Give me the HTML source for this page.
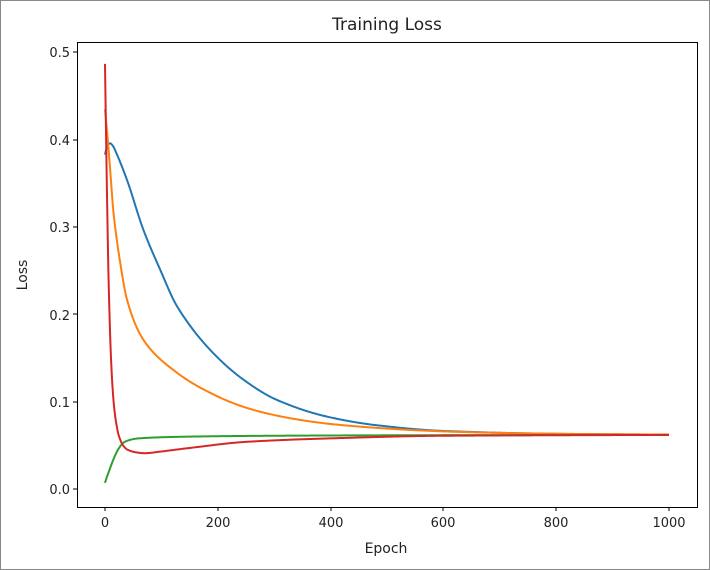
<!DOCTYPE html>
<html><head><meta charset="utf-8"><style>
html,body{margin:0;padding:0;background:#fff}
svg{display:block;font-family:"DejaVu Sans","Liberation Sans",sans-serif}
</style></head><body>
<svg id="s" width="710" height="570" viewBox="0 0 710 570">
<rect x="0.5" y="0.5" width="709" height="569" fill="#fff" stroke="#888"/>
<text x="387" y="30" font-size="17" text-anchor="middle" fill="#222">Training Loss</text>
<g id="plot"></g>
<rect x="77.5" y="42.5" width="620" height="465" fill="none" stroke="#000" stroke-width="1"/>
<g font-size="13" fill="#222">
<text x="105" y="527" text-anchor="middle">0</text>
<text x="218" y="527" text-anchor="middle">200</text>
<text x="331" y="527" text-anchor="middle">400</text>
<text x="443" y="527" text-anchor="middle">600</text>
<text x="556" y="527" text-anchor="middle">800</text>
<text x="669" y="527" text-anchor="middle">1000</text>
<text x="70" y="494" text-anchor="end">0.0</text>
<text x="70" y="407" text-anchor="end">0.1</text>
<text x="70" y="320" text-anchor="end">0.2</text>
<text x="70" y="232" text-anchor="end">0.3</text>
<text x="70" y="145" text-anchor="end">0.4</text>
<text x="70" y="57" text-anchor="end">0.5</text>
<text x="386" y="553" text-anchor="middle" font-size="14">Epoch</text>
<text transform="translate(27,275) rotate(-90)" text-anchor="middle" font-size="14">Loss</text>
</g>
<g stroke="#000" stroke-width="1">
<line x1="105" y1="507" x2="105" y2="511"/><line x1="218" y1="507" x2="218" y2="511"/>
<line x1="331" y1="507" x2="331" y2="511"/><line x1="443" y1="507" x2="443" y2="511"/>
<line x1="556" y1="507" x2="556" y2="511"/><line x1="669" y1="507" x2="669" y2="511"/>
<line x1="73" y1="489" x2="77" y2="489"/><line x1="73" y1="402" x2="77" y2="402"/>
<line x1="73" y1="314" x2="77" y2="314"/><line x1="73" y1="227" x2="77" y2="227"/>
<line x1="73" y1="140" x2="77" y2="140"/><line x1="73" y1="52" x2="77" y2="52"/>
</g>
</svg>
<script>
function X(t){return 105+t*0.564;}
function Y(v){return 489-v*873;}
function mono(pts){var n=pts.length,xs=pts.map(p=>p[0]),ys=pts.map(p=>p[1]),d=[],m=[];
for(var i=0;i<n-1;i++)d.push((ys[i+1]-ys[i])/(xs[i+1]-xs[i]));
m[0]=d[0];m[n-1]=d[n-2];for(i=1;i<n-1;i++){m[i]=(d[i-1]*d[i]<=0)?0:2/(1/d[i-1]+1/d[i]);}
return function(t){if(t<=xs[0])return ys[0];if(t>=xs[n-1])return ys[n-1];var k=0;while(t>xs[k+1])k++;
var h=xs[k+1]-xs[k],s=(t-xs[k])/h,s2=s*s,s3=s2*s;
return (2*s3-3*s2+1)*ys[k]+(s3-2*s2+s)*h*m[k]+(-2*s3+3*s2)*ys[k+1]+(s3-s2)*h*m[k+1];};}
function logCurve(pts,base){var f=mono(pts.map(p=>[p[0],Math.log(p[1])]));return t=>base+Math.exp(f(t));}
var F=0.062;
var blue=mono([[0,.383],[3,.391],[6,.395],[9,.396],[14,.393],[20,.385],[39,.354],[68,.297],[98,.251],[128,.209],[187,.159],[246,.125],[305,.102],[393,.083],[482,.073],[600,.0665],[800,.0632],[1000,.0623]]);
var orange=logCurve([[0,.373],[4,.345],[9,.305],[15,.255],[20,.228],[27,.197],[39,.155],[68,.109],[128,.071],[187,.048],[246,.032],[305,.022],[393,.013],[482,.008],[600,.004],[800,.0013],[1000,.0004]],F);
var greenL=logCurve([[0,.055],[8,.04],[15,.028],[25,.015],[35,.008],[60,.004],[150,.002],[300,.001],[1000,.0001]],0);
var green=function(t){return F-greenL(t);};
var red=mono([[0,.487],[2,.4],[4,.32],[6,.25],[8,.2],[10,.16],[13,.12],[16,.095],[20,.075],[25,.06],[32,.05],[40,.045],[55,.042],[70,.041],[100,.043],[150,.047],[250,.054],[400,.058],[600,.061],[1000,.062]]);
var g=document.getElementById('plot');
[[blue,'#1f77b4'],[orange,'#ff7f0e'],[green,'#2ca02c'],[red,'#d62728']].forEach(function(c){
var d='';for(var t=0;t<=1000;t+=(t<100?0.5:2)){d+=(d?'L':'M')+X(t).toFixed(2)+','+Y(c[0](t)).toFixed(2);}
var p=document.createElementNS('http://www.w3.org/2000/svg','path');
p.setAttribute('d',d);p.setAttribute('fill','none');p.setAttribute('stroke',c[1]);p.setAttribute('stroke-width','2');
g.appendChild(p);});
</script>
</body></html>
